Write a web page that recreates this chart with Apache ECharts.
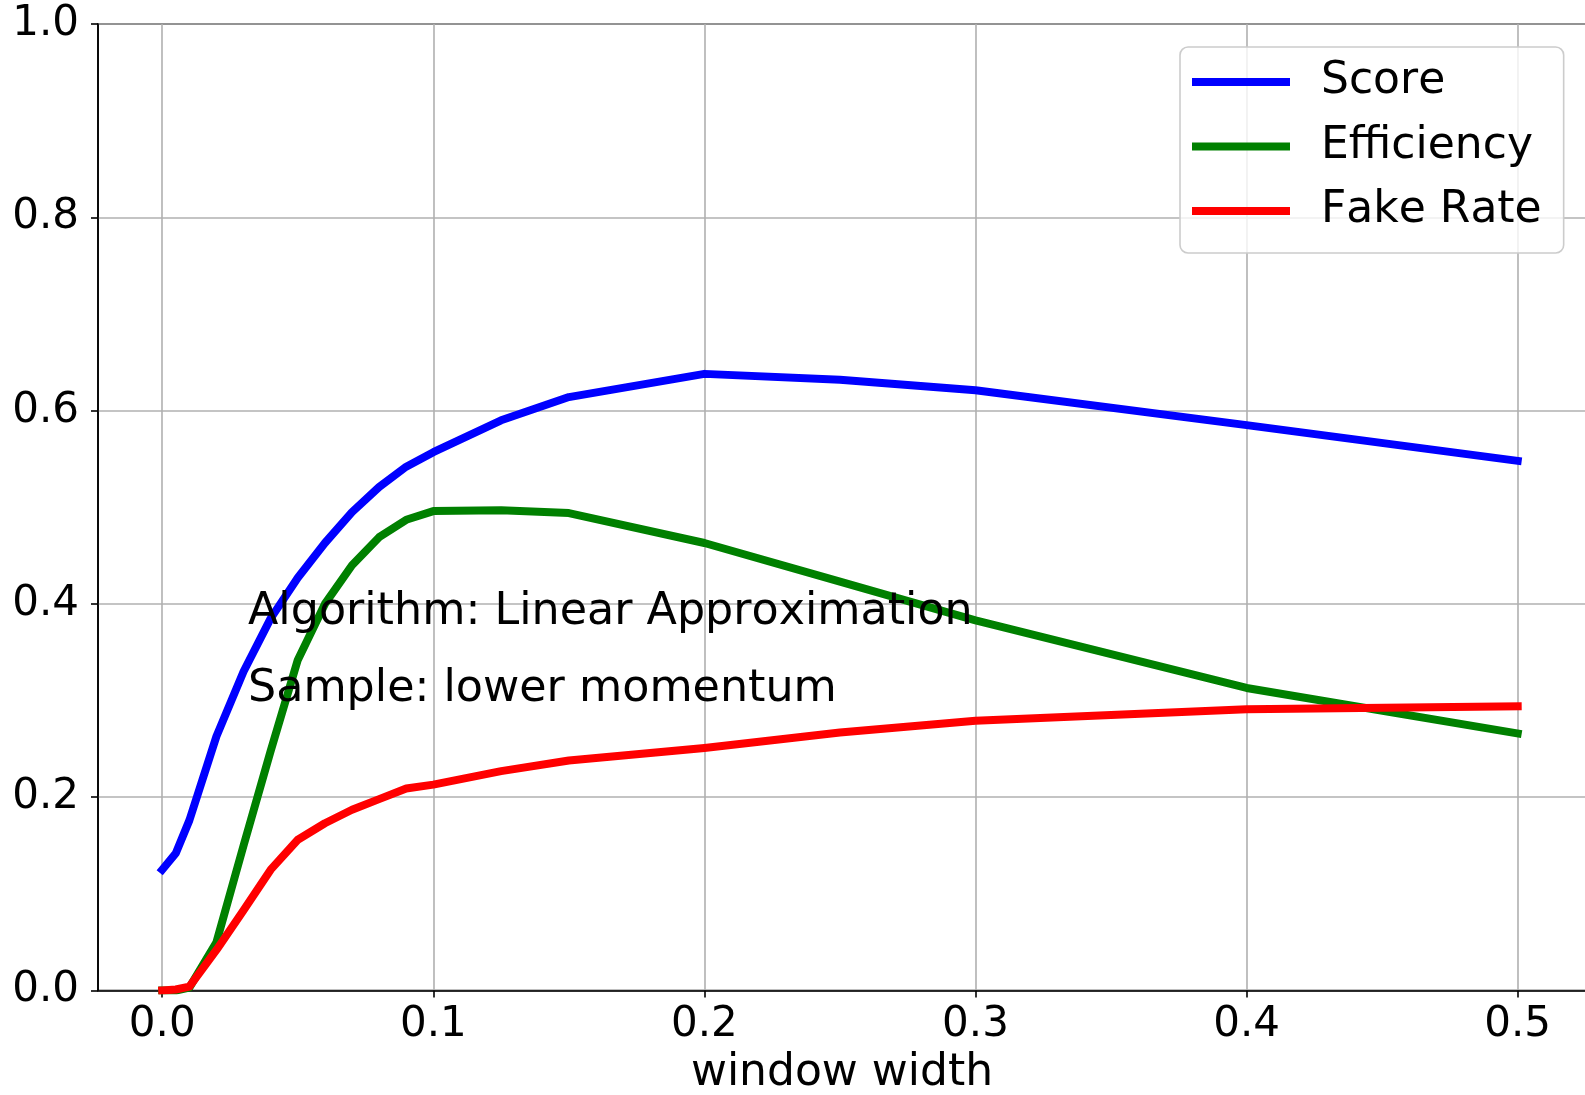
<!DOCTYPE html>
<html>
<head>
<meta charset="utf-8">
<script src="https://cdn.jsdelivr.net/npm/echarts@6/dist/echarts.min.js"></script>
<style>
  html, body { margin: 0; padding: 0; background: #ffffff; }
  #chart { width: 1585px; height: 1095px; }
</style>
</head>
<body>
<div id="chart"></div>
<script>
// Window widths scanned
const windowWidth = [0, 0.005, 0.01, 0.02, 0.03, 0.04, 0.05, 0.06, 0.07, 0.08, 0.09, 0.1, 0.125, 0.15, 0.2, 0.25, 0.3, 0.4, 0.5];

// Metric values at each window width
const score      = [0.125, 0.142, 0.176, 0.263, 0.330, 0.385, 0.427, 0.463, 0.495, 0.521, 0.542, 0.557, 0.590, 0.614, 0.638, 0.632, 0.621, 0.585, 0.548];
const efficiency = [0.000, 0.000, 0.003, 0.050, 0.150, 0.248, 0.342, 0.400, 0.440, 0.469, 0.487, 0.496, 0.497, 0.494, 0.463, 0.423, 0.383, 0.313, 0.266];
const fakeRate   = [0.000, 0.001, 0.004, 0.042, 0.083, 0.125, 0.156, 0.173, 0.187, 0.198, 0.209, 0.213, 0.227, 0.238, 0.251, 0.267, 0.279, 0.291, 0.294];

// Tick positions
const xTicks = [0.0, 0.1, 0.2, 0.3, 0.4, 0.5];
const yTicks = [0.0, 0.2, 0.4, 0.6, 0.8, 1.0];

const seriesNames = ['Score', 'Efficiency', 'Fake Rate'];
const seriesColors = ['#0000ff', '#008000', '#ff0000'];
const annotationLines = ['Algorithm: Linear Approximation', 'Sample: lower momentum'];

const FONT = 'DejaVu Sans';

// Draw glyphs at their plain advances (no pair kerning)
(function () {
  const proto = CanvasRenderingContext2D.prototype;
  ['fillText', 'strokeText', 'measureText'].forEach(fn => {
    const orig = proto[fn];
    proto[fn] = function () {
      if ('fontKerning' in this) this.fontKerning = 'none';
      return orig.apply(this, arguments);
    };
  });
})();

const chart = echarts.init(document.getElementById('chart'), null, { renderer: 'canvas' });

function pairs(ys) {
  return windowWidth.map((x, i) => [x, ys[i]]);
}

const allValues = [score, efficiency, fakeRate];

const option = {
  animation: false,
  backgroundColor: '#ffffff',
  grid: {
    left: 98,
    top: 24,
    width: 1488,
    height: 966.5,
    outerBoundsMode: 'none',
    containLabel: false,
    show: true,
    borderColor: '#000000',
    borderWidth: 1.6,
    backgroundColor: 'transparent'
  },
  xAxis: {
    type: 'value',
    min: -0.0237,
    max: 0.5252,
    name: 'window width',
    nameLocation: 'middle',
    nameGap: 51,
    nameTextStyle: { fontFamily: FONT, fontSize: 44, color: '#000000' },
    axisLine: { show: true, onZero: false, lineStyle: { color: '#000000', width: 1.6 } },
    axisTick: { show: true, inside: false, length: 7, customValues: xTicks, lineStyle: { color: '#000000', width: 1.6 } },
    axisLabel: {
      customValues: xTicks,
      margin: 14,
      fontFamily: FONT, fontSize: 42, color: '#000000',
      formatter: v => v.toFixed(1)
    },
    splitLine: { show: true, lineStyle: { color: '#b0b0b0', width: 1.6 } }
  },
  yAxis: {
    type: 'value',
    min: 0,
    max: 1,
    interval: 0.2,
    axisLine: { show: true, onZero: false, lineStyle: { color: '#000000', width: 1.6 } },
    axisTick: { show: true, inside: false, length: 7, lineStyle: { color: '#000000', width: 1.6 } },
    axisLabel: {
      margin: 19,
      fontFamily: FONT, fontSize: 42, color: '#000000',
      formatter: v => v.toFixed(1)
    },
    splitLine: { show: true, lineStyle: { color: '#b0b0b0', width: 1.6 } }
  },
  legend: {
    orient: 'vertical',
    left: 1180,
    top: 47,
    padding: [13, 22, 20, 12],
    itemWidth: 98,
    itemHeight: 8,
    itemGap: 20.5,
    icon: 'rect',
    data: seriesNames,
    textStyle: { fontFamily: FONT, fontSize: 44, color: '#000000', lineHeight: 44, padding: [0, 0, 0, 26] },
    backgroundColor: 'rgba(255,255,255,0.8)',
    borderColor: '#cccccc',
    borderWidth: 1.6,
    borderRadius: 8
  },
  graphic: annotationLines.map((t, i) => ({
    type: 'text',
    left: 248,
    top: 590 + i * 77.7,
    z: 50,
    style: { text: t, fontFamily: FONT, fontSize: 44.4, fill: '#000000' }
  })),
  series: seriesNames.map((name, k) => ({
    name: name,
    type: 'line',
    data: pairs(allValues[k]),
    showSymbol: false,
    symbol: 'none',
    clip: true,
    itemStyle: { color: seriesColors[k] },
    lineStyle: { color: seriesColors[k], width: 8, cap: 'square', join: 'round' },
    z: 10 + k
  }))
};

chart.setOption(option);
</script>
</body>
</html>
